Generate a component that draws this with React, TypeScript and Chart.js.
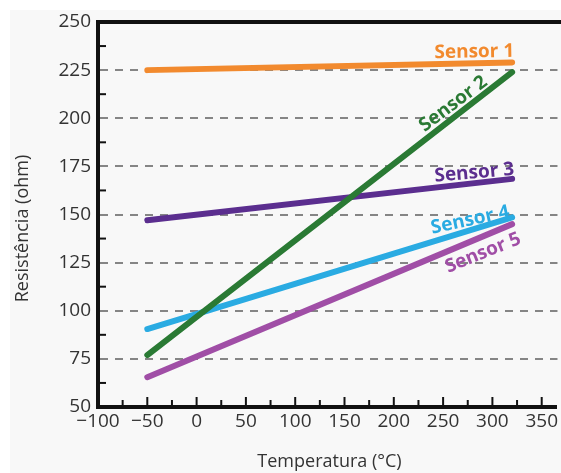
import React, { useEffect, useRef } from 'react';
import { Chart, registerables } from 'chart.js';

Chart.register(...registerables);

// ---- data ----
const temperatures = [-50, 320];
const sensor1 = [225, 229];
const sensor2 = [77, 224];
const sensor3 = [147, 168.5];
const sensor4 = [90.5, 148.5];
const sensor5 = [65.5, 145];
const seriesNames = ['Sensor 1', 'Sensor 2', 'Sensor 3', 'Sensor 4', 'Sensor 5'];
const seriesValues = [sensor1, sensor2, sensor3, sensor4, sensor5];
const seriesColors = ['#F28A2E', '#2A7A34', '#5B2E8F', '#2AABE2', '#A04EA6'];

// label anchors in data units, with rotation (degrees)
const labelX = [281.6, 260.4, 281.6, 277.5, 290.6];
const labelY = [234.4, 207.4, 171.6, 147.1, 130];
const labelAngle = [-1, -37, -5, -12, -22];

const xTicks = [-100, -50, 0, 50, 100, 150, 200, 250, 300, 350];
const yTicks = [50, 75, 100, 125, 150, 175, 200, 225, 250];
const xMinorTicks = [-75, -50, -25, 0, 25, 50, 75, 100, 125, 150, 175, 200, 225, 250, 275, 300, 325, 350];
const yMinorTicks = [62.5, 87.5, 112.5, 137.5, 162.5, 187.5, 212.5, 237.5];

const xTitle = 'Temperatura (°C)';
const yTitle = 'Resistência (ohm)';

const FONT = '"Open Sans", "DejaVu Sans", sans-serif';

const decorPlugin = {
  id: 'decor',
  beforeDraw(chart: any) {
    const { ctx, width, height } = chart;
    ctx.save();
    ctx.fillStyle = '#ffffff';
    ctx.fillRect(0, 0, width, height);
    ctx.fillStyle = '#f8f8f8';
    ctx.fillRect(10, 10, width - 10, height - 10);
    ctx.restore();
  },
  afterDatasetsDraw(chart: any) {
    const { ctx, chartArea, scales, width } = chart;
    const xs = scales.x;
    const ys = scales.y;
    ctx.save();
    // top border
    ctx.strokeStyle = '#111';
    ctx.lineWidth = 4;
    ctx.beginPath();
    ctx.moveTo(chartArea.left - 2, chartArea.top);
    ctx.lineTo(width, chartArea.top);
    ctx.stroke();
    // inward ticks
    ctx.lineWidth = 2;
    xMinorTicks.forEach((v) => {
      const px = xs.getPixelForValue(v);
      const len = v % 50 === 0 ? 10 : 7;
      ctx.beginPath();
      ctx.moveTo(px, chartArea.bottom);
      ctx.lineTo(px, chartArea.bottom - len);
      ctx.stroke();
    });
    yMinorTicks.forEach((v) => {
      const py = ys.getPixelForValue(v);
      ctx.beginPath();
      ctx.moveTo(chartArea.left, py);
      ctx.lineTo(chartArea.left + 8, py);
      ctx.stroke();
    });
    // series labels
    ctx.font = `bold 19px ${FONT}`;
    ctx.textAlign = 'center';
    ctx.textBaseline = 'middle';
    seriesNames.forEach((name, i) => {
      const px = xs.getPixelForValue(labelX[i]);
      const py = ys.getPixelForValue(labelY[i]);
      ctx.save();
      ctx.translate(px, py);
      ctx.rotate((labelAngle[i] * Math.PI) / 180);
      ctx.fillStyle = seriesColors[i];
      ctx.fillText(name, 0, 0);
      ctx.restore();
    });
    // axis titles
    ctx.fillStyle = '#333';
    ctx.font = `18px ${FONT}`;
    ctx.fillText(xTitle, (chartArea.left + width) / 2, 462);
    ctx.save();
    ctx.translate(23, (chartArea.top + chartArea.bottom) / 2 + 14);
    ctx.rotate(-Math.PI / 2);
    ctx.fillText(yTitle, 0, 0);
    ctx.restore();
    ctx.restore();
  },
};

export default function App() {
  const canvasRef = useRef<HTMLCanvasElement | null>(null);

  useEffect(() => {
    if (!canvasRef.current) return;
    const datasets = seriesNames.map((name, i) => ({
      label: name,
      data: temperatures.map((t, j) => ({ x: t, y: seriesValues[i][j] })),
      borderColor: seriesColors[i],
      backgroundColor: seriesColors[i],
      borderWidth: 6,
      borderCapStyle: 'round' as const,
      pointRadius: 0,
      fill: false,
    }));
    const chart = new Chart(canvasRef.current, {
      type: 'line',
      data: { datasets },
      plugins: [decorPlugin],
      options: {
        animation: false,
        responsive: false,
        layout: { padding: { top: 22, left: 0, right: 0, bottom: 0 } },
        plugins: { legend: { display: false }, tooltip: { enabled: false } },
        scales: {
          x: {
            type: 'linear',
            min: -100,
            max: 366,
            afterBuildTicks: (s: any) => {
              s.ticks = xTicks.map((v) => ({ value: v }));
            },
            afterFit: (s: any) => {
              s.height = 66;
            },
            ticks: {
              autoSkip: false,
              maxRotation: 0,
              padding: 3,
              color: '#333',
              font: { family: FONT, size: 19 },
              callback: (v: any) => (Number(v) < 0 ? '\u2212' + Math.abs(Number(v)) : String(v)),
            },
            grid: { display: true, drawTicks: false, color: 'rgba(0,0,0,0)', lineWidth: 0 },
            border: { display: true, color: '#111', width: 4 },
          },
          y: {
            type: 'linear',
            min: 50,
            max: 250,
            afterBuildTicks: (s: any) => {
              s.ticks = yTicks.map((v) => ({ value: v }));
            },
            afterFit: (s: any) => {
              s.width = 98;
            },
            ticks: {
              autoSkip: false,
              padding: 7,
              color: '#333',
              font: { family: FONT, size: 19 },
            },
            grid: {
              drawTicks: false,
              lineWidth: 2,
              color: (c: any) =>
                c.tick && (c.tick.value === 50 || c.tick.value === 250) ? 'rgba(0,0,0,0)' : '#858585',
            },
            border: { display: true, color: '#111', width: 4, dash: [8, 7] },
          },
        },
      },
    });
    return () => chart.destroy();
  }, []);

  return (
    <div style={{ position: 'absolute', left: 0, top: 0, width: 561, height: 473, background: '#fff' }}>
      <canvas ref={canvasRef} width={561} height={473} style={{ display: 'block' }} />
    </div>
  );
}
